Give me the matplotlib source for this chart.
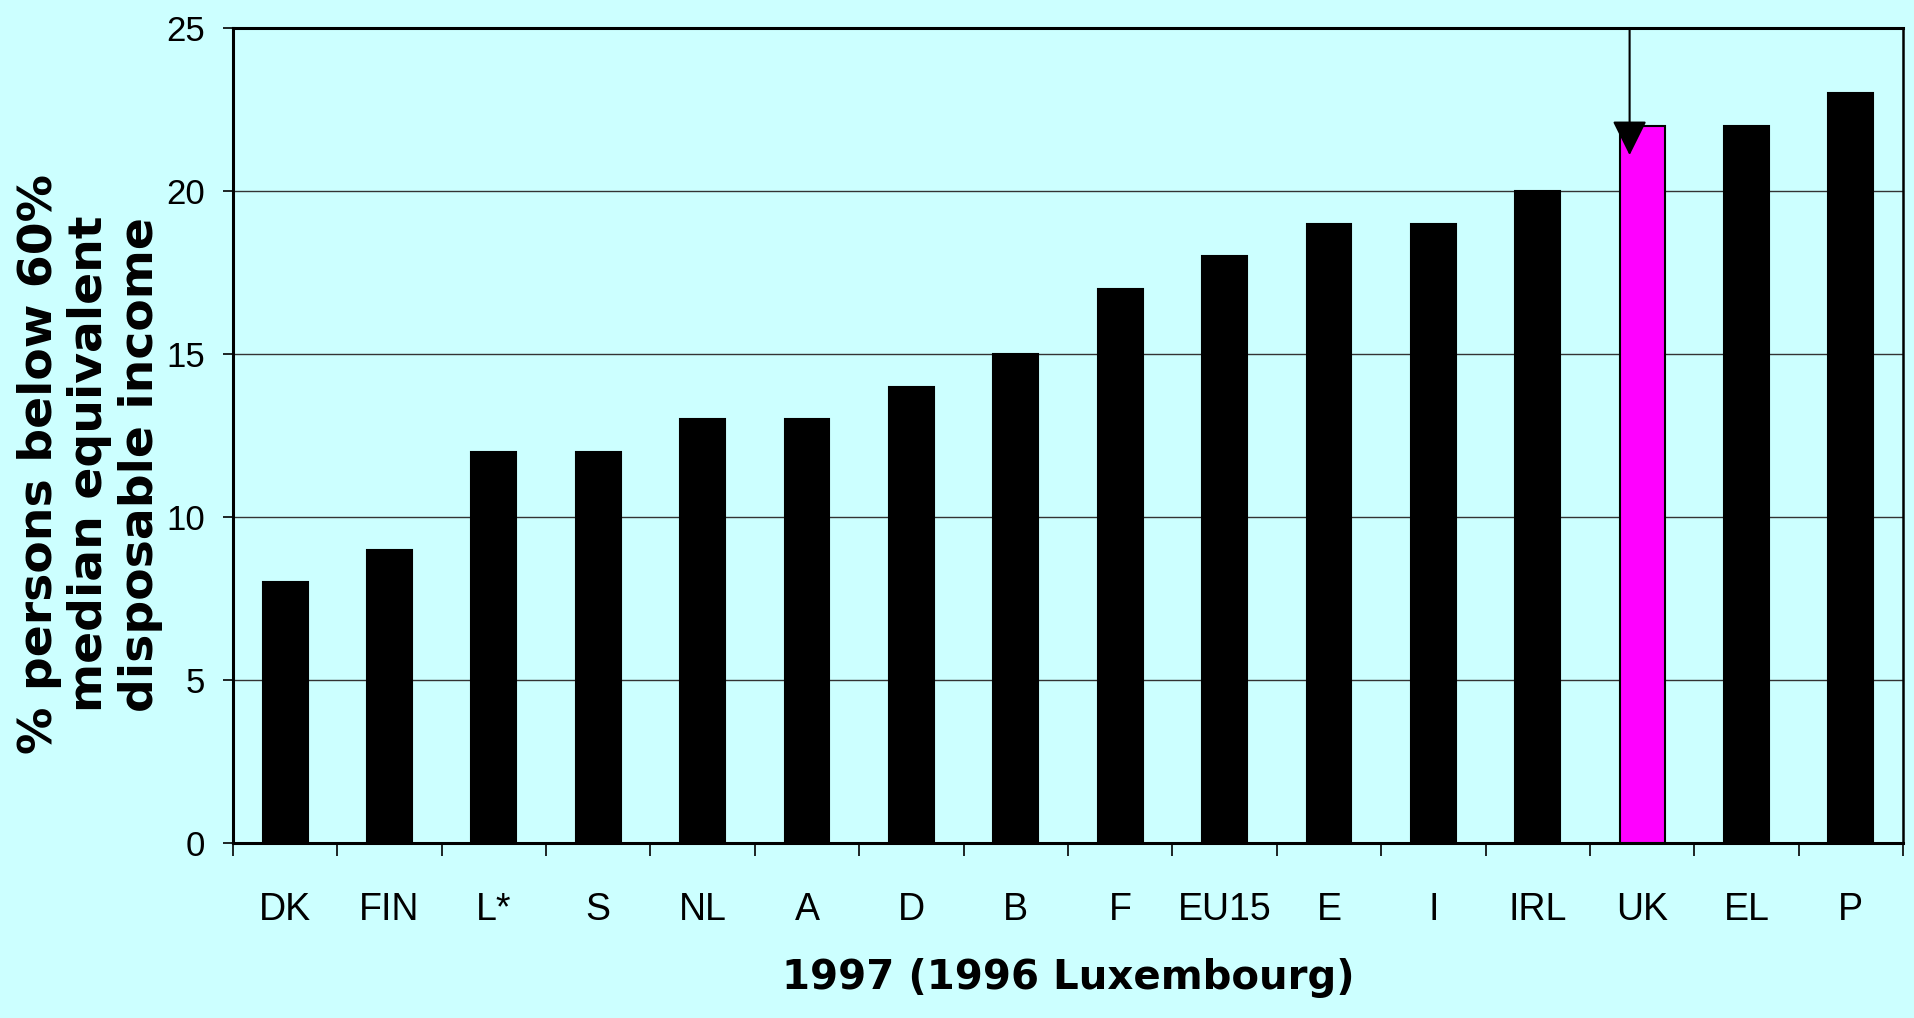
import matplotlib
matplotlib.use("Agg")
import matplotlib.pyplot as plt
import numpy as np

categories = ["DK", "FIN", "L*", "S", "NL", "A", "D", "B", "F", "EU15", "E", "I", "IRL", "UK", "EL", "P"]
values = [8, 9, 12, 12, 13, 13, 14, 15, 17, 18, 19, 19, 20, 22, 22, 23]
highlight = "UK"
yticks = [0, 5, 10, 15, 20, 25]
ylabel = "% persons below 60%\nmedian equivalent\ndisposable income"
xlabel = "1997 (1996 Luxembourg)"

bg = "#CCFFFF"
fig = plt.figure(figsize=(19.14, 10.18), dpi=100, facecolor=bg)
ax = fig.add_axes([0.1217, 0.1719, 0.8726, 0.8006], facecolor=bg)

x = np.arange(len(categories))
colors = ["#FF00FF" if c == highlight else "black" for c in categories]
ax.bar(x, values, width=0.43, color=colors, edgecolor="black", linewidth=1.5, zorder=3)

ax.set_xlim(-0.5, len(categories) - 0.5)
ax.set_ylim(0, 25)
ax.set_yticks(yticks)
ax.set_yticklabels([str(t) for t in yticks], fontsize=25, family="Liberation Sans")
ax.grid(axis="y", color="#333333", linewidth=1.0, zorder=0)
ax.tick_params(axis="y", direction="out", length=7, width=1.2, pad=13)

# major ticks at category boundaries, labels on minor ticks at centers
ax.set_xticks(np.arange(len(categories) + 1) - 0.5)
ax.set_xticklabels([])
ax.set_xticks(x, minor=True)
ax.set_xticklabels(categories, minor=True, fontsize=27, family="Liberation Sans")
ax.tick_params(axis="x", which="major", direction="out", length=9, width=1.2)
ax.tick_params(axis="x", which="minor", length=0, pad=35)

for s in ax.spines.values():
    s.set_color("black")
    s.set_linewidth(2.2)
ax.spines["right"].set_linewidth(1.8)

fig.text(0.047, 0.544, ylabel, rotation=90, ha="center", va="center",
         fontsize=34, fontweight="bold", family="DejaVu Sans", linespacing=1.15)
ax.set_xlabel(xlabel, fontsize=29, fontweight="bold", family="DejaVu Sans", labelpad=22)

# arrow pointing to highlighted bar
i = categories.index(highlight)
ax.annotate("", xy=(x[i] - 0.12, values[i] - 0.9), xytext=(x[i] - 0.12, 25),
            arrowprops=dict(arrowstyle="-|>,head_length=1.45,head_width=0.72",
                            mutation_scale=15, color="black", lw=1.5,
                            shrinkA=0, shrinkB=0), zorder=5)

fig.savefig("out.png", dpi=100, facecolor=bg)
